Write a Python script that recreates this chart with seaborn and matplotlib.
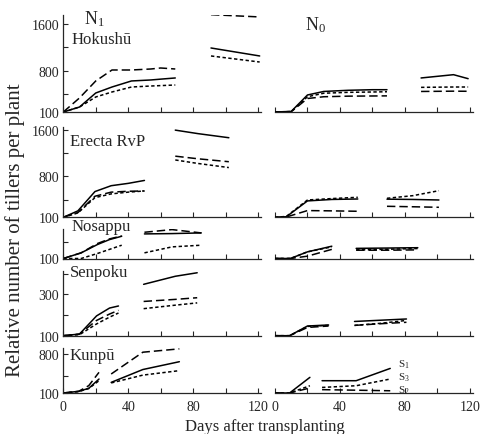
import numpy as np
import pandas as pd
import matplotlib
matplotlib.use('Agg')
import matplotlib.pyplot as plt
import seaborn as sns
from matplotlib.ticker import FixedLocator, NullFormatter

sns.set_style('ticks')
plt.rcParams['font.family'] = ['Liberation Serif', 'DejaVu Serif']
plt.rcParams['mathtext.fontset'] = 'custom'
plt.rcParams['mathtext.rm'] = 'Liberation Serif'
plt.rcParams['mathtext.it'] = 'Liberation Serif:italic'

NAN = np.nan

VARIETIES = ['Hokushū', 'Erecta RvP', 'Nosappu', 'Senpoku', 'Kunpū']
TREATMENTS = ['N$_1$', 'N$_0$']
SERIES = ['S1', 'S2', 'S3']
LEGEND_LABELS = ['S$_1$', 'S$_3$', 'S$_2$']
X_TICKS = [0, 40, 80, 120]

# ---- Hokushū ----
hok_n1_days = [0, 10, 20, 30, 42, 54, 60, 69, NAN, 91, 121]
hok_n1_s1 = [100, 185, 424, 526, 629, 646, 660, 680, NAN, 1191, 1055]
hok_n1_s2 = [100, 340, 629, 816, 816, 833, 850, 833, NAN, 1759, 1720]
hok_n1_s3 = [100, 185, 356, 441, 526, 543, 550, 560, NAN, 1055, 952]
hok_n0_days = [0, 10, 20, 30, 45, 60, 69, NAN, 90, 110, 119]
hok_n0_s1 = [100, 110, 390, 450, 470, 480, 480, NAN, 680, 736, 668]
hok_n0_s2 = [100, 105, 330, 360, 370, 373, 375, NAN, 450, 455, 453]
hok_n0_s3 = [100, 108, 360, 420, 435, 441, 445, NAN, 520, 526, 526]

# ---- Erecta RvP ----
ere_n1_days = [0, 9, 19.5, 29.5, 40, 50, NAN, 69, 83, 102]
ere_n1_s1 = [100, 210, 540, 640, 680, 730, NAN, 1590, 1530, 1460]
ere_n1_s2 = [100, 180, 460, 530, 545, 550, NAN, 1145, 1100, 1050]
ere_n1_s3 = [100, 175, 436, 500, 530, 550, NAN, 1080, 1020, 950]
ere_n0_days = [0, 7, 20, 35, 51, NAN, 69, 85, 101]
ere_n0_s1 = [100, 110, 380, 405, 413, NAN, 410, 405, 396]
ere_n0_s2 = [100, 105, 215, 210, 203, NAN, 288, 280, 271]
ere_n0_s3 = [100, 115, 396, 420, 442, NAN, 425, 470, 555]

# ---- Nosappu ----
nos_n1_days = [0, 11, 21, 28.5, 36, NAN, 50, 67, 85]
nos_n1_s1 = [100, 134, 184, 214, 234, NAN, 248, 250, 254]
nos_n1_s2 = [100, 134, 190, 218, 236, NAN, 258, 274, 254]
nos_n1_s3 = [100, 100, 130, 155, 180, NAN, 134, 170, 180]
nos_n0_days = [0, 9.5, 20, 35, NAN, 50, 70, 88]
nos_n0_s1 = [100, 100, 140, 174, NAN, 161, 163, 165]
nos_n0_s2 = [100, 100, 114, 155, NAN, 150, 150, 152]
nos_n0_s3 = [100, 100, 140, 170, NAN, 152, 156, 160]

# ---- Senpoku ----
sen_n1_days = [0, 10, 20.5, 28.5, 34, NAN, 49.5, 69, 82.5]
sen_n1_s1 = [100, 108, 196, 234, 244, NAN, 349, 388, 405]
sen_n1_s2 = [100, 108, 174, 205, 223, NAN, 266, 276, 284]
sen_n1_s3 = [100, 105, 157, 190, 210, NAN, 231, 248, 259]
sen_n0_days = [0, 9, 20, 33, NAN, 49, 65, 81]
sen_n0_s1 = [100, 100, 147, 152, NAN, 169, 175, 181]
sen_n0_s2 = [100, 100, 140, 147, NAN, 150, 158, 165]
sen_n0_s3 = [100, 100, 145, 150, NAN, 150, 160, 174]

# ---- Kunpū ----
kun_n1_days = [0, 9.5, 15.7, 22, NAN, 29.5, 49, 71.5]
kun_n1_s1 = [100, 130, 184, 350, NAN, 290, 520, 660]
kun_n1_s2 = [100, 130, 232, 470, NAN, 440, 830, 890]
kun_n1_s3 = [100, 125, 180, 320, NAN, 280, 420, 500]
kun_n0_days = [0, 9, 21.5, NAN, 29, 50, 71]
kun_n0_s1 = [100, 100, 380, NAN, 320, 320, 540]
kun_n0_s2 = [100, 100, 190, NAN, 160, 150, 140]
kun_n0_s3 = [100, 100, 230, NAN, 200, 230, 350]

# y-axis ticks per variety row
hok_yticks, hok_yminor = [100, 800, 1600], [400, 1200]
ere_yticks, ere_yminor = [100, 800, 1600], [400, 1200]
nos_yticks, nos_yminor = [100], [200]
sen_yticks, sen_yminor = [100, 300], [200, 400]
kun_yticks, kun_yminor = [100, 800], [400]

PANELS = [
    [(hok_n1_days, hok_n1_s1, hok_n1_s2, hok_n1_s3), (hok_n0_days, hok_n0_s1, hok_n0_s2, hok_n0_s3)],
    [(ere_n1_days, ere_n1_s1, ere_n1_s2, ere_n1_s3), (ere_n0_days, ere_n0_s1, ere_n0_s2, ere_n0_s3)],
    [(nos_n1_days, nos_n1_s1, nos_n1_s2, nos_n1_s3), (nos_n0_days, nos_n0_s1, nos_n0_s2, nos_n0_s3)],
    [(sen_n1_days, sen_n1_s1, sen_n1_s2, sen_n1_s3), (sen_n0_days, sen_n0_s1, sen_n0_s2, sen_n0_s3)],
    [(kun_n1_days, kun_n1_s1, kun_n1_s2, kun_n1_s3), (kun_n0_days, kun_n0_s1, kun_n0_s2, kun_n0_s3)],
]
YTICKS = [(hok_yticks, hok_yminor), (ere_yticks, ere_yminor), (nos_yticks, nos_yminor),
          (sen_yticks, sen_yminor), (kun_yticks, kun_yminor)]

# ---- layout (pixels) ----
W, H = 483, 435
COL_X0 = [63.3, 275.0]
COL_W = 198.0
XLIM = (0, 122)
# (bottom px, top px, ylim)
ROWS = [(113.0, 15.6, (100, 1760)),
        (218.3, 128.2, (100, 1640)),
        (259.5, 229.6, (100, 280)),
        (336.7, 271.7, (100, 415)),
        (394.0, 349.3, (100, 900))]

fig = plt.figure(figsize=(W / 100, H / 100), dpi=100)

DASHES = {'S1': '', 'S2': (5.5, 2.6), 'S3': (2.2, 1.6)}


def make_df(days, s1, s2, s3):
    rows = []
    for name, vals in zip(SERIES, (s1, s2, s3)):
        seg = 0
        for d, v in zip(days, vals):
            if np.isnan(d) or np.isnan(v):
                seg += 1
                continue
            rows.append({'day': d, 'value': v, 'series': name, 'seg': f'{name}-{seg}'})
    return pd.DataFrame(rows)


axes = {}
for r, (bpx, tpx, ylim) in enumerate(ROWS):
    for c in range(2):
        ax = fig.add_axes([COL_X0[c] / W, 1 - bpx / H, COL_W / W, (bpx - tpx) / H])
        axes[(r, c)] = ax
        df = make_df(*PANELS[r][c])
        sns.lineplot(data=df, x='day', y='value', style='series', units='seg',
                     estimator=None, sort=False, color='black', dashes=DASHES,
                     style_order=SERIES, linewidth=1.1, legend=False, ax=ax)
        ax.set_xlim(*XLIM)
        ax.set_ylim(*ylim)
        ax.set_xlabel('')
        ax.set_ylabel('')
        ax.spines['top'].set_visible(False)
        ax.spines['right'].set_visible(False)
        for sp in ax.spines.values():
            sp.set_linewidth(0.9)
        ax.xaxis.set_major_locator(FixedLocator(X_TICKS))
        ax.xaxis.set_minor_locator(FixedLocator([20, 60, 100]))
        ax.tick_params(axis='both', which='both', direction='in', length=3.5, width=0.8,
                       labelsize=10, pad=3)
        if r < len(ROWS) - 1:
            ax.tick_params(axis='x', which='both', labelbottom=False)
        else:
            ax.tick_params(axis='x', which='both', pad=5)
        if c == 0:
            maj, mnr = YTICKS[r]
            ax.yaxis.set_major_locator(FixedLocator(maj))
            ax.yaxis.set_minor_locator(FixedLocator(mnr))
            ax.yaxis.set_minor_formatter(NullFormatter())
        else:
            ax.spines['left'].set_visible(False)
            ax.set_yticks([])
        ax.patch.set_alpha(0)

# variety labels
LABEL_POS = [(72, 40), (70, 142), (72, 227), (70, 273), (70, 356)]
for name, (x, y) in zip(VARIETIES, LABEL_POS):
    fig.text(x / W, 1 - y / H, name, fontsize=12, ha='left', va='center')

# treatment labels
fig.text(84 / W, 1 - 19 / H, TREATMENTS[0], fontsize=13, ha='left', va='center')
fig.text(305 / W, 1 - 25 / H, TREATMENTS[1], fontsize=13, ha='left', va='center')

# legend labels in Kunpū N0 panel
axk = axes[(4, 1)]
for lab, ypx in zip(LEGEND_LABELS, [365, 378, 391]):
    axk.text(398 / W, 1 - ypx / H, lab, fontsize=8, ha='left', va='center',
             transform=fig.transFigure)

fig.text(265 / W, 1 - 427 / H, 'Days after transplanting', fontsize=12, ha='center', va='center')
fig.text(15 / W, 1 - 230 / H, 'Relative number of tillers per plant', fontsize=15,
         rotation=90, ha='center', va='center')

fig.savefig('out.png', dpi=100)
